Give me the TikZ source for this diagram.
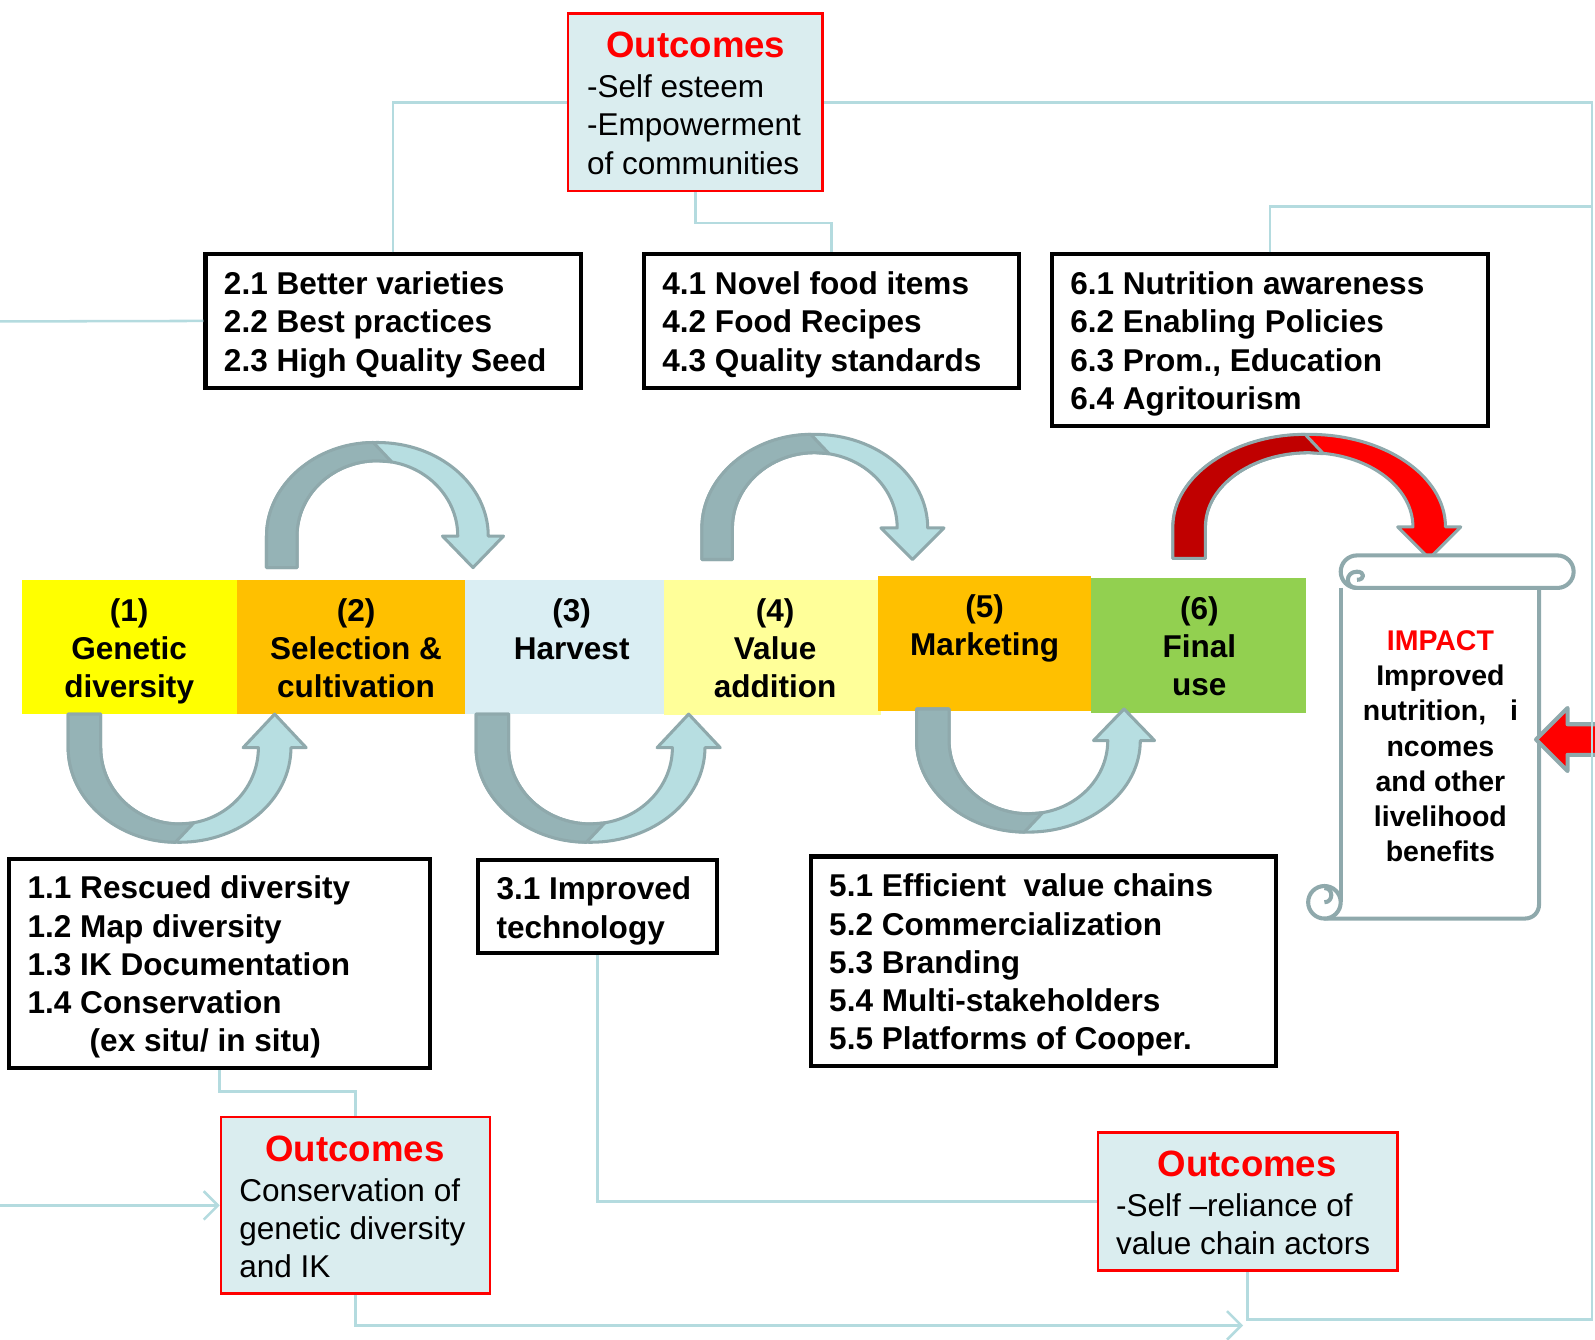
\documentclass[tikz,border=0pt]{standalone}
\usepackage{fontspec}
\setmainfont{Liberation Sans}
\usetikzlibrary{arrows.meta}
\definecolor{cYel}{HTML}{FFFF00}
\definecolor{cOra}{HTML}{FFC000}
\definecolor{cLb}{HTML}{DAEEF3}
\definecolor{cLy}{HTML}{FFFF99}
\definecolor{cGrn}{HTML}{92D050}
\definecolor{cOut}{HTML}{DAEDEF}
\definecolor{cConn}{HTML}{B4DBDF}
\definecolor{cLine}{HTML}{8FA9AC}
\definecolor{tealdark}{HTML}{95B3B6}
\definecolor{teallight}{HTML}{B7DEE1}
\definecolor{reddark}{HTML}{C00000}
\definecolor{redlight}{HTML}{FF0000}
\definecolor{cRed}{HTML}{FF0000}
\newcommand{\fitem}{\bfseries\fontsize{31}{37.6}\selectfont}
\newcommand{\fbody}{\fontsize{31}{37.8}\selectfont}
\newcommand{\ftitle}{\bfseries\fontsize{36}{40}\selectfont}
\newcommand{\fimp}{\bfseries\fontsize{28}{34.5}\selectfont}
% #1 cx, #2 tail/tip y, #3 head base y, #4 a, #5 b, #6 band width, #7 head half width, #8 sign, #9 colour prefix
\newcommand{\curvedarr}[9]{%
 \pgfmathsetmacro\rox{#4+#6/2}%
 \pgfmathsetmacro\roy{#5+#6/2}%
 \pgfmathsetmacro\rix{#4-#6/2}%
 \pgfmathsetmacro\riy{#5+#6/2-18}%
 \pgfmathsetmacro\riyb{\riy-1}%
 \def\kk{0.5523}%
 \path[fill=#9light, draw=cLine, line width=3pt, line join=round]
 ({#1-\rox},#2) -- ({#1-\rox},#3)
 .. controls ({#1-\rox},{#3+(#8)*\kk*\roy}) and ({#1-\kk*\rox},{#3+(#8)*\roy}) .. ({#1},{#3+(#8)*\roy})
 .. controls ({#1+\kk*\rox},{#3+(#8)*\roy}) and ({#1+\rox},{#3+(#8)*\kk*\roy}) .. ({#1+\rox},#3)
 -- ({#1+#4+#7},#3) -- ({#1+#4},#2) -- ({#1+#4-#7},#3) -- ({#1+\rix},#3)
 .. controls ({#1+\rix},{#3+(#8)*\kk*\riy}) and ({#1+\kk*\rix},{#3+(#8)*\riy}) .. ({#1},{#3+(#8)*\riy})
 .. controls ({#1-\kk*\rix},{#3+(#8)*\riy}) and ({#1-\rix},{#3+(#8)*\kk*\riy}) .. ({#1-\rix},#3)
 -- ({#1-\rix},#2) -- cycle;
 \path[fill=#9dark, draw=cLine, line width=3pt, line join=round]
 ({#1-\rox},#2) -- ({#1-\rox},#3)
 .. controls ({#1-\rox},{#3+(#8)*\kk*\roy}) and ({#1-\kk*\rox},{#3+(#8)*\roy}) .. ({#1-4},{#3+(#8)*\roy})
 -- ({#1+14},{#3+(#8)*\riyb}) -- ({#1},{#3+(#8)*\riy})
 .. controls ({#1-\kk*\rix},{#3+(#8)*\riy}) and ({#1-\rix},{#3+(#8)*\kk*\riy}) .. ({#1-\rix},#3)
 -- ({#1-\rix},#2) -- cycle;
}
\begin{document}
\begin{tikzpicture}[x=1pt,y=-1pt,
  conn/.style={draw=cConn, line width=2.5pt},
  stagebox/.style={inner sep=0pt, outer sep=0pt},
  itembox/.style={draw=black, line width=4pt, inner sep=0pt, fill=white},
  outbox/.style={draw=cRed, line width=2.5pt, fill=cOut, inner sep=0pt},
  ltext/.style={inner sep=0pt, align=left, anchor=north west},
  ctext/.style={inner sep=0pt, align=center, anchor=north},
  scrollline/.style={draw=cLine, line width=4pt, line join=round},
  barb/.style={-{Straight Barb[length=14pt,width=28pt]}}
]
\useasboundingbox (0,0) rectangle (1568,1317);

% stage bar
\node[stagebox, fill=cYel, minimum width=211pt, minimum height=132pt] (s1) at (127.5,636) {};
\node[stagebox, fill=cOra, minimum width=224pt, minimum height=132pt] (s2) at (345,636) {};
\node[stagebox, fill=cLb, minimum width=196pt, minimum height=132pt] (s3) at (555,636) {};
\node[stagebox, fill=cLy, minimum width=213pt, minimum height=133pt] (s4) at (759.5,636.5) {};
\node[stagebox, fill=cOra, minimum width=210pt, minimum height=133pt] (s5) at (968,632.5) {};
\node[stagebox, fill=cGrn, minimum width=211pt, minimum height=133pt] (s6) at (1178.5,634.5) {};
\node[ctext, font=\fitem] (l1) at (127,588) {(1)\\Genetic\\diversity};
\node[ctext, font=\fitem] (l2) at (350,588) {(2)\\Selection \&\\cultivation};
\node[ctext, font=\fitem] (l3) at (562,588) {(3)\\Harvest};
\node[ctext, font=\fitem] (l4) at (762,588) {(4)\\Value\\addition};
\node[ctext, font=\fitem] (l5) at (968,584) {(5)\\Marketing};
\node[ctext, font=\fitem] (l6) at (1179,586) {(6)\\Final\\use};

% curved arrows
\curvedarr{371}{558}{527}{94}{77}{30}{30}{-1}{teal}
\curvedarr{801}{550}{519}{96}{77}{30}{31}{-1}{teal}
\curvedarr{1287}{549}{518}{118}{75}{32}{31}{-1}{red}
\curvedarr{176.5}{702}{735}{93.5}{77}{32}{31}{1}{teal}
\curvedarr{580.5}{702}{735}{96.5}{77}{32}{31}{1}{teal}
\curvedarr{1011}{697}{728}{94}{74}{32}{30}{1}{teal}

% item boxes
\node[itembox, minimum width=369pt, minimum height=131pt] (b2) at (386.5,315.5) {};
\node[ltext, font=\fitem] (t2) at (220,267) {2.1 Better varieties\\2.2 Best practices\\2.3 High Quality Seed};
\node[itembox, minimum width=369pt, minimum height=131pt] (b4) at (817.5,315.5) {};
\node[ltext, font=\fitem] (t4) at (651,267) {4.1 Novel food items\\4.2 Food Recipes\\4.3 Quality standards};
\node[itembox, minimum width=429pt, minimum height=169pt] (b6) at (1248.5,334.5) {};
\node[ltext, font=\fitem] (t6) at (1052,267) {6.1 Nutrition awareness\\6.2 Enabling Policies\\6.3 Prom., Education\\6.4 Agritourism};
\node[itembox, minimum width=414pt, minimum height=206pt] (b1) at (216,947) {};
\node[ltext, font=\fitem] (t1) at (27,861) {1.1 Rescued diversity\\1.2 Map diversity\\1.3 IK Documentation\\1.4 Conservation\\\hspace*{61pt}(ex situ/ in situ)};
\node[itembox, minimum width=235pt, minimum height=92pt] (b3) at (587.5,891) {};
\node[ltext, font=\fitem] (t3) at (488,862) {3.1 Improved\\technology};
\node[itembox, minimum width=457pt, minimum height=206pt] (b5) at (1025.5,945) {};
\node[ltext, font=\fitem] (t5) at (815,859) {5.1 Efficient\ \ value chains\\5.2 Commercialization\\5.3 Branding\\5.4 Multi-stakeholders\\5.5 Platforms of Cooper.};

% outcome boxes
\node[outbox, minimum width=250.5pt, minimum height=174.5pt] (out1) at (683.5,100.5) {};
\node[font=\ftitle, text=cRed, inner sep=0pt] (h1) at (684,44) {Outcomes};
\node[ltext, font=\fbody] (o1) at (577,73) {-Self esteem\\-Empowerment\\of communities};
\node[outbox, minimum width=264.5pt, minimum height=173.5pt] (out2) at (349.5,1185) {};
\node[font=\ftitle, text=cRed, inner sep=0pt] (h2) at (349,1129) {Outcomes};
\node[ltext, font=\fbody] (o2) at (235,1158) {Conservation of\\genetic diversity\\and IK};
\node[outbox, minimum width=294.5pt, minimum height=135.5pt] (out3) at (1226.5,1181) {};
\node[font=\ftitle, text=cRed, inner sep=0pt] (h3) at (1226,1144) {Outcomes};
\node[ltext, font=\fbody] (o3) at (1097,1173) {-Self –reliance of\\value chain actors};

% scroll
\fill[white] (1318,570) rectangle (1513,903);
\draw[scrollline] (1318,578) -- (1318,887);
\draw[scrollline] (1302,903) -- (1499,903) .. controls (1507,903) and (1513,897) .. (1513,889) -- (1513,578);
\draw[scrollline, fill=white] (1302,887) circle (16);
\draw[scrollline] (1302,887) .. controls (1311,887) and (1311,873) .. (1302,873);
\draw[scrollline, fill=white, rounded corners=16pt] (1318,546) rectangle (1547,578);
\draw[scrollline] (1334,578) .. controls (1322,578) and (1322,562) .. (1334,562) .. controls (1342,562) and (1342,570) .. (1334,570);
\node[ctext, font=\fimp] (imp) at (1416,620) {\textcolor{cRed}{IMPACT}\\Improved\\nutrition,\ \ \ i\\ncomes\\and other\\livelihood\\benefits};

% red arrow into scroll
\path[fill=cRed, draw=cLine, line width=4pt, line join=round] (1570,712) -- (1541,712) -- (1541,696) -- (1510,727) -- (1541,758) -- (1541,742) -- (1570,742);

% connectors
\coordinate (rc) at (1565,1297);
\coordinate (rt) at (1565,203);
\coordinate (lft1) at (0,316);
\coordinate (lft2) at (0,1185);
\coordinate (bot) at (1222,1303);
\draw[conn] (b2.north) |- (out1.west);
\draw[conn] (out1.south) -- ++(0,30) -| (b4.north);
\draw[conn] (out1.east) -| (rc) -| (out3.south);
\draw[conn] (b6.north) |- (rt);
\draw[conn] (lft1) -- (b2.west);
\draw[conn, barb] (lft2) -- (out2.west);
\draw[conn] (b1.south) -- ++(0,21) -| (out2.north);
\draw[conn, barb] (out2.south) |- (bot);
\draw[conn] (b3.south) |- (out3.west);
\end{tikzpicture}
\end{document}
